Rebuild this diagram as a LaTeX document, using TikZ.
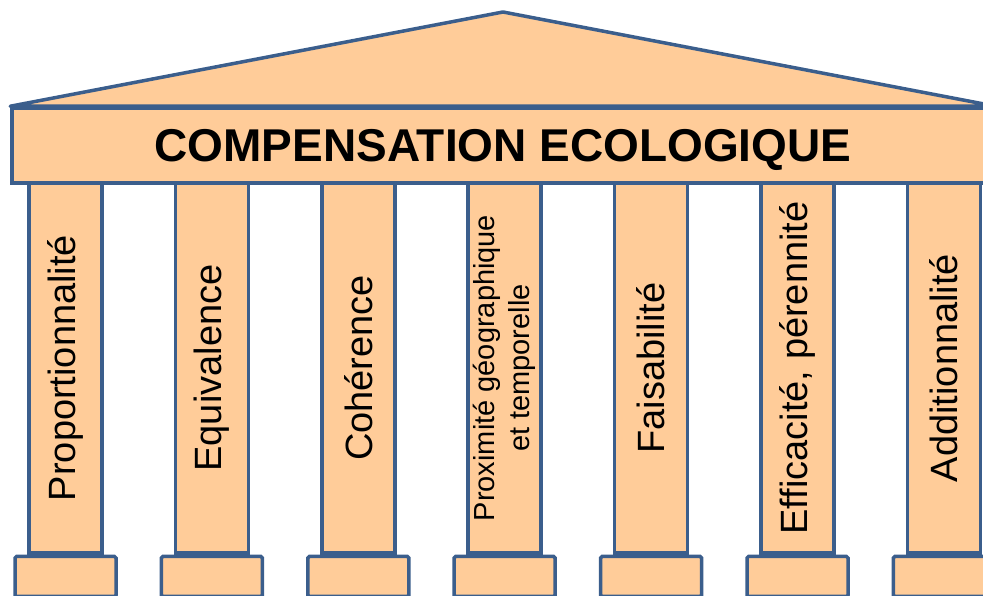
\documentclass[tikz,border=0pt]{standalone}
\usepackage{fontspec}
\setmainfont{Liberation Sans}
\usepackage{xcolor}
\usepackage{tikz}
\usetikzlibrary{positioning}
\definecolor{bordtemple}{RGB}{59,94,140}
\definecolor{fondtemple}{RGB}{255,204,153}

\begin{document}
\begin{tikzpicture}[x=1pt, y=1pt,
	piece/.style={draw=bordtemple, fill=fondtemple, line width=3.5pt, inner sep=0pt},
	colonne/.style={piece, rotate=90, minimum width=370pt, minimum height=73pt},
	socle/.style={piece, rounded corners=1.5pt, minimum width=101pt, minimum height=40pt},
	mot/.style={font=\fontsize{38}{45}\selectfont},
	petit/.style={font=\fontsize{29}{35}\selectfont, align=center}]
				\useasboundingbox (0,0) rectangle (983,596);
				
				% Colonnes et socles
				\foreach \i/\f/\txt in {1/mot/Proportionnalité, 2/mot/Equivalence, 3/mot/Cohérence,
					4/petit/{Proximité géographique\\et temporelle}, 5/mot/Faisabilité,
					6/mot/{Efficacité, pérennité}, 7/mot/Additionnalité} {
					\node[colonne, \f] (col\i) at ({65.5+146.4*(\i-1)}, 228) {\txt};
					\node[socle, below=0pt of col\i.west] (socle\i) {};
				}
				
				% Architrave
				\node[piece, minimum width=982pt, minimum height=75pt, text depth=0pt,
					font=\fontsize{46}{55}\selectfont\bfseries] (titre) at (503,450.5) {COMPENSATION ECOLOGIQUE};
				
				% Fronton
				\coordinate (faite) at (503,584);
				\draw[piece, line join=round] (titre.north west) -- (faite) -- (titre.north east) -- cycle;
			\end{tikzpicture}
\end{document}
